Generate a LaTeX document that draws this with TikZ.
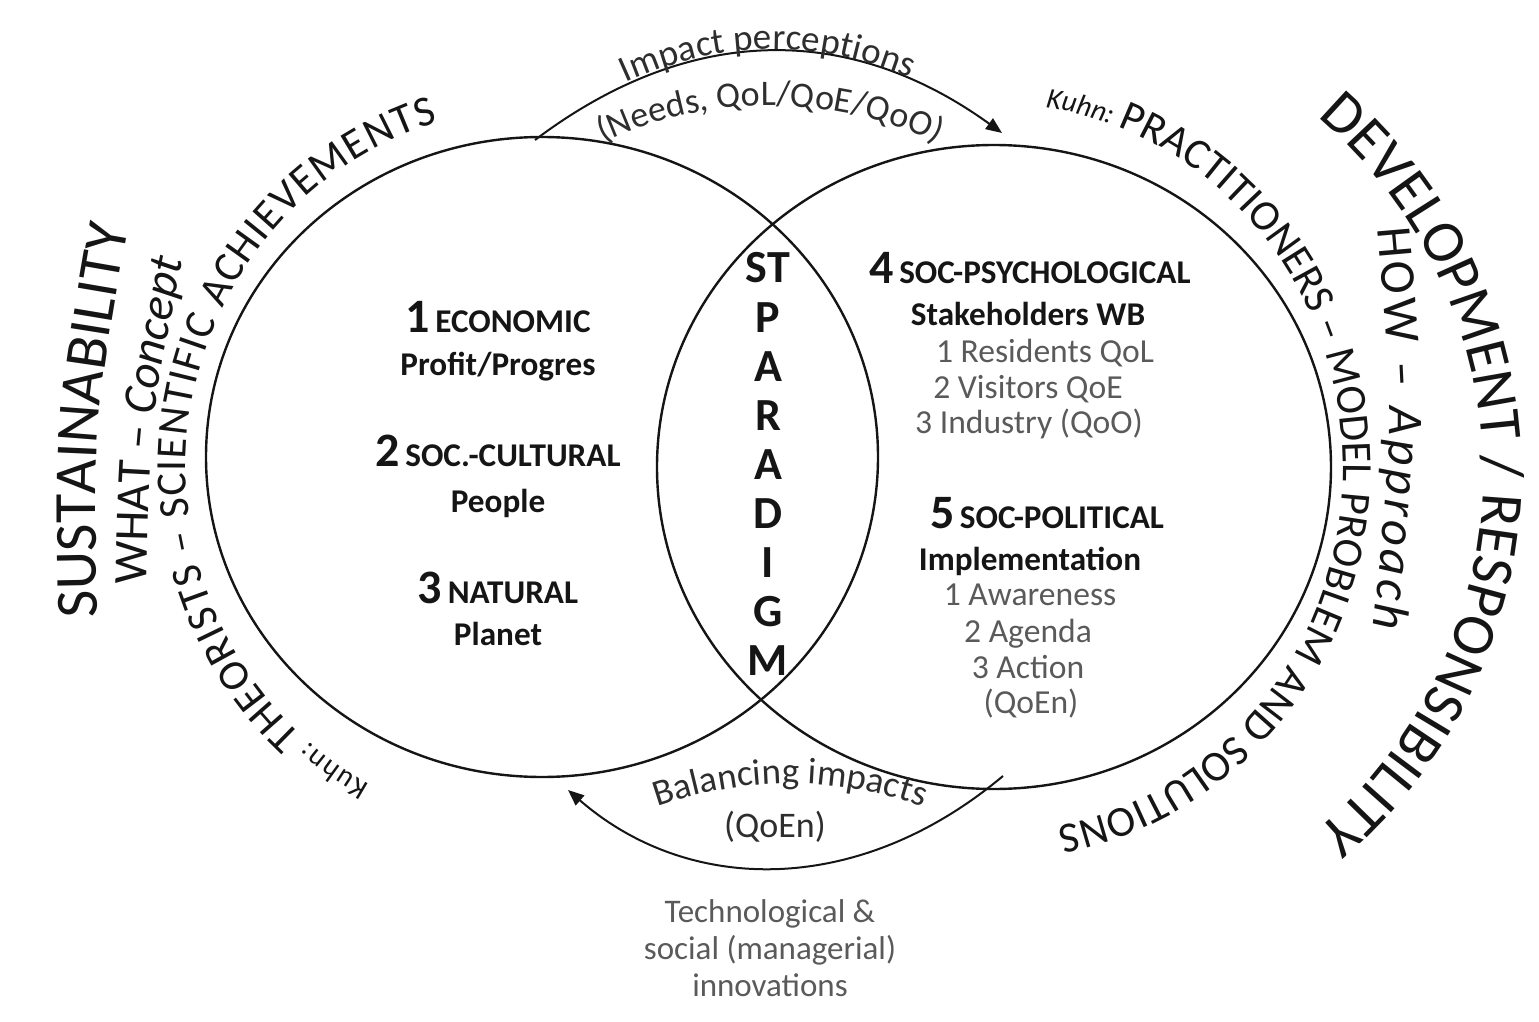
\documentclass[tikz,border=0pt]{standalone}
\usepackage{fontspec}
\setmainfont{Carlito}
\usetikzlibrary{decorations.text,arrows.meta,calc,shapes.geometric}
\definecolor{ink}{HTML}{151515}
\definecolor{dk}{HTML}{2E2E2E}
\definecolor{gtxt}{HTML}{5A5A5A}
\newcommand\bignum[1]{{\fontsize{24}{24}\selectfont #1}}
\begin{document}
\begin{tikzpicture}[x=0.5pt,y=-0.5pt,
  circ/.style={draw=ink, line width=1.2pt, ellipse, inner sep=0pt},
  arr/.style={draw=ink, line width=1pt, -{Triangle[length=8pt,width=6.5pt]}},
  hd/.style={font=\bfseries\fontsize{16.6}{18}\selectfont, text=ink, inner sep=0pt, anchor=base},
  gy/.style={font=\fontsize{16.8}{18}\selectfont, text=gtxt, inner sep=0pt, anchor=base},
  pl/.style={font=\bfseries\fontsize{23}{24}\selectfont, text=ink, inner sep=0pt, anchor=base},
]
\useasboundingbox (0,0) rectangle (1539,1022);

% circles
\node[circ, minimum width=336pt, minimum height=320pt] (L) at (542,457) {};
\node[circ, minimum width=337pt, minimum height=322pt] (R) at (994,467) {};

% left circle texts
\node[hd] (e1) at (498,333) {\bignum{1}\,ECONOMIC};
\node[hd] (e1s) at (498,375) {Profit/Progres};
\node[hd] (e2) at (498,466) {\bignum{2}\,SOC.-CULTURAL};
\node[hd] (e2s) at (498,512) {People};
\node[hd] (e3) at (498,603) {\bignum{3}\,NATURAL};
\node[hd] (e3s) at (498,645) {Planet};

% right circle texts
\node[hd] (r4) at (1030,284) {\bignum{4}\,SOC-PSYCHOLOGICAL};
\node[hd] (r4a) at (1028,326) {Stakeholders WB};
\node[gy] (r4b) at (1045,362) {1 Residents QoL};
\node[gy] (r4c) at (1028,398) {2 Visitors QoE};
\node[gy] (r4d) at (1029,433) {3 Industry (QoO)};
\node[hd] (r5) at (1047,528) {\bignum{5}\,SOC-POLITICAL};
\node[hd] (r5a) at (1030,570) {Implementation};
\node[gy] (r5b) at (1030,605) {1 Awareness};
\node[gy] (r5c) at (1028,642) {2 Agenda};
\node[gy] (r5d) at (1028,678) {3 Action};
\node[gy] (r5e) at (1031,713) {(QoEn)};

% paradigm
\foreach \t/\yy [count=\i] in {ST/283,P/332,A/381,R/430,A/479,D/528,I/577,G/626,M/675}
  \node[pl] (pg\i) at (768,\yy) {\t};

% arrows
\coordinate (ta) at (535,140);
\coordinate (tb) at (1002,133);
\draw[arr] (ta) .. controls (690,23) and (850,23) .. (tb);
\coordinate (b1) at (1003,776);
\coordinate (b2) at (568,790);
\draw[arr] (b1) .. controls (860,896) and (690,896) .. (b2);

\path[decorate, decoration={text along path, text align=center, raise=1pt,
  text={|\color{dk}\fontsize{18.5}{18.5}\selectfont|Impact perceptions}}]
  (ta) .. controls (690,23) and (850,23) .. (tb);
\path[decorate, decoration={text along path, text align=center,
  text={|\color{dk}\fontsize{18}{18}\selectfont|(Needs, QoL/QoE/QoO)}}]
  (560,168) .. controls (680,85) and (860,85) .. (980,168);
\path[decorate, decoration={text along path, text align=center,
  text={|\color{dk}\fontsize{18.5}{18.5}\selectfont|Balancing impacts}}]
  (635,815) .. controls (740,773) and (840,773) .. (945,815);
\node[font=\fontsize{18}{18}\selectfont, text=dk, inner sep=0pt] (bq) at (775,827) {(QoEn)};
\node[font=\fontsize{16.5}{18.5}\selectfont, text=gtxt, align=center, inner sep=0pt] (inn) at (770,948)
  {Technological \&\\social (managerial)\\innovations};

% outer curved texts, left
\path[decorate, decoration={text along path, text align=center,
  text={|\color{ink}\fontsize{30}{30}\selectfont|SUSTAINABILITY}}]
  (98,640) .. controls (93,425) .. (132,205);
\path[decorate, decoration={text along path, text align=center,
  text={|\color{ink}\fontsize{24}{24}\selectfont|WHAT – |\color{ink}\fontsize{24}{24}\itshape\selectfont|Concept}}]
  (146,600) .. controls (150,420) .. (186,245);
\path[decorate, decoration={text along path, text align={fit to path},
  text={|\color{ink}\fontsize{14.5}{14.5}\selectfont|Kuhn: |\color{ink}\fontsize{21.5}{21.5}\selectfont|THEORISTS – SCIENTIFIC ACHIEVEMENTS}}]
  ($(542,468)+(119:356 and 362)$) arc[start angle=119, end angle=253, x radius=356, y radius=362];

% outer curved texts, right
\path[decorate, decoration={text along path, text align=center,
  text={|\color{ink}\fontsize{14.5}{14.5}\itshape\selectfont|Kuhn: |\color{ink}\fontsize{21.5}{21.5}\upshape\selectfont|PRACTITIONERS – MODEL PROBLEM AND SOLUTIONS}}]
  ($(997,468)+(268:346 and 364)$) arc[start angle=268, end angle=450, x radius=346, y radius=364];
\path[decorate, decoration={text along path, text align=center,
  text={|\color{ink}\fontsize{30}{30}\selectfont|DEVELOPMENT / RESPONSIBILITY}}]
  ($(1003,474)+(295:480 and 472)$) arc[start angle=295, end angle=425, x radius=480, y radius=472];
\path[decorate, decoration={text along path, text align={fit to path},
  text={|\color{ink}\fontsize{25}{25}\selectfont|HOW – |\color{ink}\fontsize{25}{25}\itshape\selectfont|Approach}}]
  (1377,228) .. controls (1394,425) .. (1373,628);
\end{tikzpicture}
\end{document}
